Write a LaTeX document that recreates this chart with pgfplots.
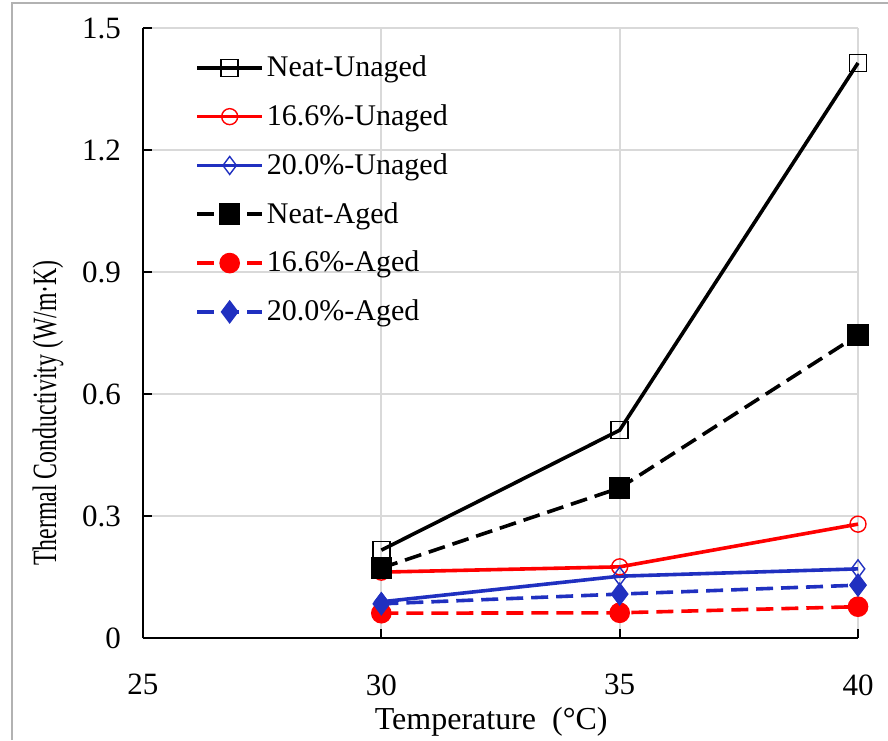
\documentclass[border=0pt]{standalone}
\usepackage{pgfplots}
\pgfplotsset{compat=1.18}
\usepackage{fontspec}
\setmainfont{Liberation Serif}
\definecolor{myblue}{RGB}{32,48,192}
\definecolor{gridgray}{RGB}{217,217,217}
\begin{document}
\begin{tikzpicture}
\useasboundingbox (-71.5pt,-51pt) rectangle (372.5pt,319pt);
\draw[gray!60, line width=1pt] (-65.5pt,-51pt) -- (-65.5pt,317.5pt) -- (372.5pt,317.5pt);
\begin{axis}[
  at={(0,0)}, anchor=south west, scale only axis,
  width=357.5pt, height=305pt,
  xmin=25, xmax=40, ymin=0, ymax=1.5,
  xtick={25,30,35,40}, xticklabels={25,30,35,40},
  ytick={0,0.3,0.6,0.9,1.2,1.5}, yticklabels={0,0.3,0.6,0.9,1.2,1.5},
  axis x line*=bottom, axis y line*=left,
  grid=major, grid style={gridgray, line width=1pt},
  axis line style={black, line width=1.2pt},
  tick align=inside, major tick length=4.5pt, tick style={black, line width=1pt},
  ticklabel style={font=\fontsize{15.5}{18}\selectfont},
  xticklabel style={yshift=-17pt, inner ysep=1pt}, yticklabel style={xshift=-7.5pt},
  xlabel={Temperature~~(°C)},
  xlabel style={at={(axis description cs:0.487,-0.137)}, anchor=center, inner ysep=0pt, font=\fontsize{16}{19}\selectfont},
  ylabel={\scalebox{0.7}[1]{Thermal Conductivity (W/m·K)}},
  ylabel style={at={(axis description cs:-0.133,0.369)}, anchor=center, font=\fontsize{17}{20}\selectfont},
  clip=false,
  legend image code/.code={\draw[mark repeat=2,mark phase=2,#1] plot coordinates {(0pt,0pt) (16.25pt,0pt) (32.5pt,0pt)};},
  legend style={at={(axis description cs:0.0643,0.968)}, anchor=north west, draw=none, fill=none,
    font=\fontsize{15}{18}\selectfont, row sep=8.5pt, column sep=-0.5pt},
  legend cell align=left,
]
\addplot[black, line width=1.8pt, mark=square, mark size=4.25pt, mark options={solid, line width=0.7pt, fill=none}]
  coordinates {(30,0.216) (35,0.511) (40,1.414)};
\addlegendentry{Neat-Unaged}
\addplot[red, line width=1.8pt, mark=o, mark size=4pt, mark options={solid, line width=0.7pt, fill=none}]
  coordinates {(30,0.162) (35,0.175) (40,0.280)};
\addlegendentry{16.6\%-Unaged}
\addplot[myblue, line width=1.8pt, mark=diamond, mark size=4.5pt, mark options={solid, line width=0.7pt, fill=none}]
  coordinates {(30,0.089) (35,0.152) (40,0.170)};
\addlegendentry{20.0\%-Unaged}
\addplot[black, line width=1.8pt, dash pattern=on 8.5pt off 4pt, mark=square*, mark size=4.5pt, mark options={solid}]
  coordinates {(30,0.172) (35,0.369) (40,0.745)};
\addlegendentry{Neat-Aged}
\addplot[red, line width=1.8pt, dash pattern=on 8.5pt off 4pt, mark=*, mark size=4.25pt, mark options={solid}]
  coordinates {(30,0.061) (35,0.062) (40,0.077)};
\addlegendentry{16.6\%-Aged}
\addplot[myblue, line width=1.8pt, dash pattern=on 8.5pt off 4pt, mark=diamond*, mark size=4.5pt, mark options={solid}]
  coordinates {(30,0.084) (35,0.108) (40,0.130)};
\addlegendentry{20.0\%-Aged}
\end{axis}
\end{tikzpicture}
\end{document}
